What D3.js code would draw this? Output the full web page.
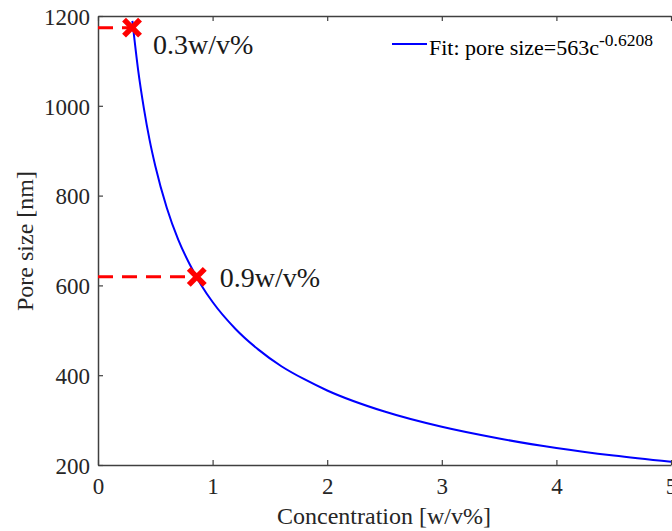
<!DOCTYPE html>
<html>
<head>
<meta charset="utf-8">
<script src="https://cdn.jsdelivr.net/npm/d3@7"></script>
<style>
  body { margin: 0; background: #fff; }
  text { font-family: "Liberation Serif", "Times New Roman", serif; }
</style>
</head>
<body>
<div id="chart-area"></div>
<script>
// data
var fitConc = [0.3, 0.35, 0.4, 0.45, 0.5, 0.6, 0.7, 0.8, 0.9, 1.0, 1.2, 1.4, 1.6, 1.8, 2.0, 2.5, 3.0, 3.5, 4.0, 4.5, 5.0];
var fitPore = [1189, 1080, 995, 924, 866, 773, 702, 647, 601, 563, 503, 457, 420, 391, 366, 319, 285, 259, 238, 221, 207];
var markConc = [0.297, 0.862];
var markPore = [1174, 619];
var markLabels = ["0.3w/v%", "0.9w/v%"];
var xTicks = [0, 1, 2, 3, 4, 5];
var yTicks = [200, 400, 600, 800, 1000, 1200];

var W = 672, H = 531;
var margin = { left: 98, right: 1, top: 16, bottom: 66 };
var width = W - margin.left - margin.right,
    height = H - margin.top - margin.bottom;

var svg = d3.select("#chart-area").append("svg")
    .attr("width", W)
    .attr("height", H);
var g = svg.append("g")
    .attr("transform", "translate(" + margin.left + "," + margin.top + ")");

var x = d3.scaleLinear().domain([0, 5]).range([0, width]);
var y = d3.scaleLinear().domain([200, 1200]).range([height, 0]);

var axisColor = "#404040";
var fmt = d3.format("d");

// Axes (MATLAB style: ticks inward)
var xAxis = g.append("g")
    .attr("transform", "translate(0," + height + ")")
    .call(d3.axisBottom(x).tickValues(xTicks).tickFormat(fmt).tickSizeInner(-5).tickSizeOuter(0).tickPadding(13));
var xTop = g.append("g")
    .call(d3.axisTop(x).tickValues(xTicks).tickSizeInner(-5).tickSizeOuter(0).tickFormat(""));
var yAxis = g.append("g")
    .call(d3.axisLeft(y).tickValues(yTicks).tickFormat(fmt).tickSizeInner(-5).tickSizeOuter(0).tickPadding(8));

[xAxis, xTop, yAxis].forEach(function(a){
    a.attr("font-family", null);
    a.select(".domain").attr("stroke", axisColor).attr("stroke-width", 1.5);
    a.selectAll(".tick line").attr("stroke", axisColor).attr("stroke-width", 1.2);
    a.selectAll(".tick text")
        .attr("fill", "#262626")
        .style("font-family", "'Liberation Serif', 'Times New Roman', serif")
        .style("font-size", "23px");
});
yAxis.selectAll(".tick text").attr("dy", "0.36em");

// Labels
g.append("text")
    .attr("x", 384 - margin.left)
    .attr("y", 524 - margin.top)
    .attr("text-anchor", "middle")
    .attr("font-size", "24px")
    .attr("fill", "#262626")
    .text("Concentration [w/v%]");
g.append("text")
    .attr("transform", "rotate(-90)")
    .attr("x", -(241 - margin.top))
    .attr("y", 33 - margin.left)
    .attr("text-anchor", "middle")
    .attr("font-size", "24px")
    .attr("fill", "#262626")
    .text("Pore size [nm]");

// Dashed guide lines
markConc.forEach(function(c, i){
    g.append("line")
        .attr("x1", x(0))
        .attr("x2", x(c))
        .attr("y1", y(markPore[i]))
        .attr("y2", y(markPore[i]))
        .attr("stroke", "#ff0000")
        .attr("stroke-width", 3)
        .attr("stroke-dasharray", "15,9");
});

// Fit curve
var line = d3.line()
    .x(function(d, i){ return x(fitConc[i]); })
    .y(function(d){ return y(d); })
    .curve(d3.curveMonotoneX);
g.append("path")
    .datum(fitPore)
    .attr("d", line)
    .attr("fill", "none")
    .attr("stroke", "#0000ff")
    .attr("stroke-width", 2);

// Markers
var labelDx = [21, 23], labelDy = [26, 10];
markConc.forEach(function(c, i){
    var cx = x(c), cy = y(markPore[i]), s = 8;
    g.append("path")
        .attr("d", "M" + (cx - s) + "," + (cy - s) + "L" + (cx + s) + "," + (cy + s) +
                   "M" + (cx - s) + "," + (cy + s) + "L" + (cx + s) + "," + (cy - s))
        .attr("stroke", "#ff0000")
        .attr("stroke-width", 5.5)
        .attr("stroke-linecap", "butt");
    g.append("text")
        .attr("x", cx + labelDx[i])
        .attr("y", cy + labelDy[i])
        .attr("font-size", "28px")
        .attr("fill", "#1a1a1a")
        .text(markLabels[i]);
});

// Legend
var legend = g.append("g")
    .attr("transform", "translate(" + (392 - margin.left) + "," + (44 - margin.top) + ")");
legend.append("line")
    .attr("x1", 0).attr("x2", 35)
    .attr("y1", 0).attr("y2", 0)
    .attr("stroke", "#0000ff")
    .attr("stroke-width", 2);
var lt = legend.append("text")
    .attr("x", 37)
    .attr("y", 11)
    .attr("font-size", "22px")
    .attr("fill", "#000");
lt.append("tspan").text("Fit: pore size=563c");
lt.append("tspan")
    .attr("dy", -9)
    .attr("font-size", "17.5px")
    .text("-0.6208");
</script>
</body>
</html>
